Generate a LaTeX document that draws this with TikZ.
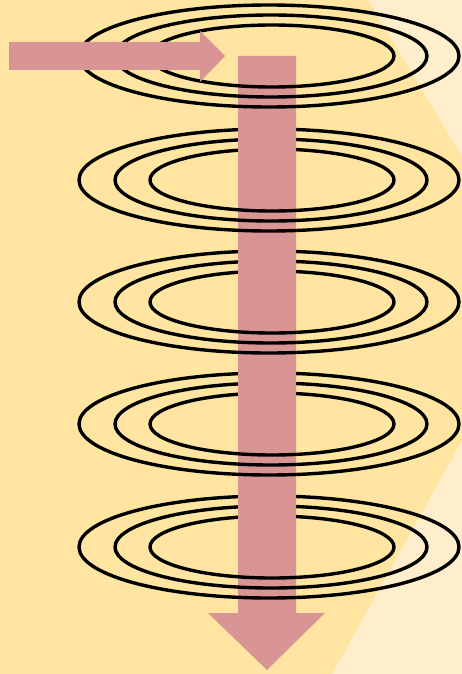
\documentclass[tikz,border=0pt]{standalone}
\usepackage{xcolor}
\definecolor{bgyellow}{HTML}{FFE5A1}
\definecolor{bglight}{HTML}{FFEECB}
\definecolor{flow}{HTML}{D99594}

\begin{document}
\begin{tikzpicture}[
  x=1pt, y=-1pt,
  coil/.style={draw=black, line width=3.4pt},
  flowarrow/.style={fill=flow, draw=none},
]
\useasboundingbox (0,0) rectangle (462,674);

% background
\begin{scope}
  \clip (0,0) rectangle (462,674);
  \fill[bglight] (0,0) rectangle (462,674);
  \fill[bgyellow] (0,0) -- (368,0) -- (544,293) -- (332,674) -- (0,674) -- cycle;
\end{scope}

% coils
\foreach \cy in {56,180,302,424,547} {
  \draw[coil] (269,\cy) ellipse[x radius=190, y radius=51];
  \draw[coil] (271,\cy) ellipse[x radius=156, y radius=41];
  \draw[coil] (272,\cy) ellipse[x radius=122, y radius=31];
}

% downward flow
\coordinate (shafttop) at (267,56);
\coordinate (tip) at (267,670);
\fill[flowarrow] (238,56) -- (296,56) -- (296,613) -- (325,613) -- (tip)
  -- (208,613) -- (238,613) -- cycle;

% front halves of the coils
\begin{scope}
  \clip (238,0) rectangle (296,674);
  \foreach \cy in {56,180,302,424,547} {
    \draw[coil] (459,\cy) arc[start angle=0, end angle=180, x radius=190, y radius=51];
    \draw[coil] (427,\cy) arc[start angle=0, end angle=180, x radius=156, y radius=41];
    \draw[coil] (394,\cy) arc[start angle=0, end angle=180, x radius=122, y radius=31];
  }
\end{scope}

% incoming flow
\fill[flowarrow] (9,42) -- (200,42) -- (200,31) -- (225,56) -- (200,82)
  -- (200,70) -- (9,70) -- cycle;

\end{tikzpicture}
\end{document}
